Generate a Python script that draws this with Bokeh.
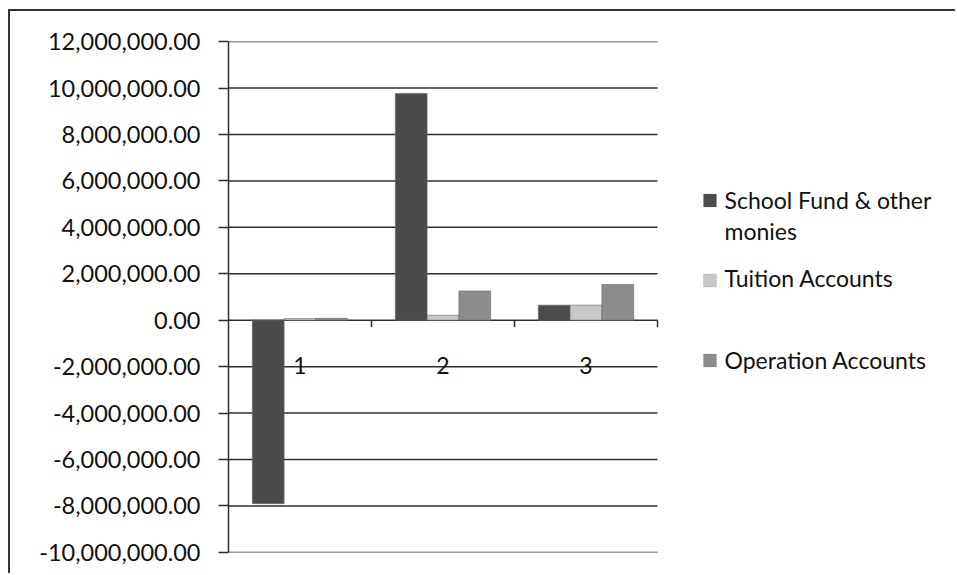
from bokeh.plotting import figure
from bokeh.models import (FixedTicker, NumeralTickFormatter, Label, BoxAnnotation,
                          ColumnDataSource, Range1d)
from bokeh.transform import dodge
from bokeh.core.properties import value
from bokeh.embed import file_html
from bokeh.resources import INLINE

# ---- data ----
categories = [1, 2, 3]
category_labels = ["1", "2", "3"]
school_fund = [-7900000, 9770000, 650000]
tuition = [70000, 210000, 650000]
operation = [80000, 1260000, 1540000]
series_names = ["School Fund & other monies", "Tuition Accounts", "Operation Accounts"]
y_ticks = list(range(-10_000_000, 12_000_001, 2_000_000))

# ---- style / layout ----
FONT = "Lato"
TEXT_COLOR = "#111111"
LINE_COLOR = "#2e2e2e"
colors = ["#4b4b4b", "#c8c8c8", "#8c8c8c"]
bar_w = 1 / 4.5
OX, OY = 10, 11              # canvas offset caused by the outer border
PAGE_W, PAGE_H = 957, 575
FRAME_L, FRAME_T, FRAME_B, PLOT_R = 228, 41, 552, 657
cw = PAGE_W - OX
ch = PAGE_H - OY
x_lo, x_hi = 0.5, 0.5 + len(categories)
x_end = x_lo + len(categories) * (PAGE_W - FRAME_L) / (PLOT_R - FRAME_L)
eps = 5000

p = figure(width=cw, height=ch, x_range=Range1d(x_lo, x_end),
           y_range=Range1d(y_ticks[0] - eps, y_ticks[-1] + eps),
           x_axis_type=None, output_backend="svg", toolbar_location=None,
           min_border_left=FRAME_L - OX, min_border_right=0,
           min_border_top=FRAME_T - OY, min_border_bottom=PAGE_H - FRAME_B)
p.margin = (9, 0, 0, 8)
p.styles = {"border-left": "2px solid #333333", "border-top": "2px solid #333333"}
p.outline_line_color = None
p.background_fill_color = "white"
p.border_fill_color = "white"
p.ygrid.visible = False

ticker = FixedTicker(ticks=y_ticks)
ax = p.yaxis[0]
ax.ticker = ticker
ax.formatter = NumeralTickFormatter(format="0,0.00")
ax.axis_line_color = LINE_COLOR
ax.axis_line_width = 1.5
ax.major_tick_line_color = LINE_COLOR
ax.major_tick_line_width = 1.5
ax.major_tick_out = 10
ax.major_tick_in = 0
ax.minor_tick_line_color = None
ax.major_label_text_font = FONT
ax.major_label_text_font_size = "23.5px"
ax.major_label_text_color = TEXT_COLOR
ax.major_label_standoff = 18

# horizontal gridlines, limited to the plot area (legend sits to the right)
p.segment(x0=[x_lo] * len(y_ticks), y0=y_ticks, x1=[x_hi] * len(y_ticks), y1=y_ticks,
          line_color=LINE_COLOR, line_width=1.5, level="underlay")

src = ColumnDataSource(dict(cat=categories, sf=school_fund, tu=tuition, op=operation,
                            zero=[0] * len(categories), lab=category_labels))

for i, col in enumerate(["sf", "tu", "op"]):
    p.vbar(x=dodge("cat", (i - 1) * bar_w, range=p.x_range), top=col, bottom=0,
           width=bar_w, source=src, fill_color=colors[i], line_color="#666666",
           line_width=0.6)

# category axis at zero: boundary tick marks and labels
bounds = [c + 0.5 for c in categories]
p.segment(x0=bounds, y0=[0] * len(bounds), x1=bounds, y1=[-300000] * len(bounds),
          line_color=LINE_COLOR, line_width=1.5)
p.text(x="cat", y="zero", text="lab", source=src, y_offset=45,
       text_align="center", text_baseline="middle", text_font=value(FONT),
       text_font_size="23px", text_color=TEXT_COLOR)

# legend (manual, page pixel positions)
legend_rows = [
    (["School Fund & other", "monies"], 198, [197, 228]),
    (["Tuition Accounts"], 278, [275]),
    (["Operation Accounts"], 358, [357]),
]
for i, (lines, sq_y, text_ys) in enumerate(legend_rows):
    p.add_layout(BoxAnnotation(left=701 - OX, right=714 - OX,
                               top=sq_y - 6.5 - OY, bottom=sq_y + 6.5 - OY,
                               left_units="canvas", right_units="canvas",
                               top_units="canvas", bottom_units="canvas",
                               fill_color=colors[i], fill_alpha=1,
                               line_color="#777777", line_width=0.6))
    for t, ty in zip(lines, text_ys):
        p.add_layout(Label(x=722 - OX, y=ty - OY, x_units="canvas", y_units="canvas",
                           text=t, text_font=FONT, text_font_size="23px",
                           text_color=TEXT_COLOR, text_baseline="middle",
                           text_align="left"))

open("out.html", "w").write(file_html(p, INLINE))
